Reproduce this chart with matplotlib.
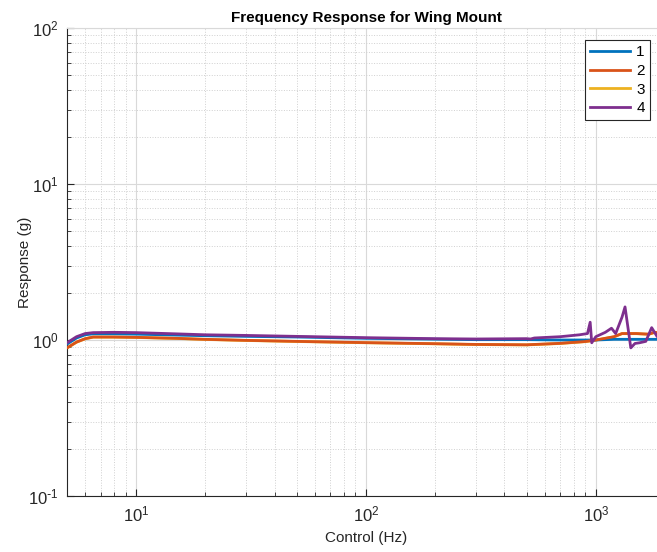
import matplotlib
matplotlib.use("Agg")
import matplotlib.pyplot as plt
from matplotlib.ticker import LogLocator, NullFormatter, FuncFormatter
import math

plt.rcParams['font.family'] = ['Liberation Sans', 'DejaVu Sans']
plt.rcParams['axes.unicode_minus'] = False

# Frequency points (Hz)
freq_1 = [5, 5.5, 6.0, 6.5, 8, 10, 15, 20, 30, 50, 100, 200, 300, 500, 700, 900, 1000, 1200, 1500, 2000]
resp_1 = [0.94, 1.03, 1.08, 1.095, 1.095, 1.09, 1.075, 1.065, 1.055, 1.045, 1.025, 1.012, 1.005, 1.005, 1.0, 1.0, 1.0, 1.01, 1.01, 1.01]

freq_2 = [5, 5.5, 6.0, 6.5, 8, 10, 15, 20, 30, 50, 100, 200, 300, 500, 700, 900, 1000, 1200, 1300, 1500, 1700, 1800, 2000]
resp_2 = [0.89, 0.97, 1.02, 1.045, 1.045, 1.04, 1.025, 1.01, 0.995, 0.98, 0.962, 0.947, 0.937, 0.932, 0.952, 0.978, 1.0, 1.05, 1.1, 1.1, 1.09, 1.12, 1.1]

freq_3 = freq_2
resp_3 = [0.888, 0.968, 1.018, 1.043, 1.043, 1.038, 1.023, 1.008, 0.993, 0.978, 0.960, 0.945, 0.935, 0.930, 0.950, 0.976, 0.998, 1.048, 1.098, 1.098, 1.088, 1.118, 1.098]

freq_4 = [5, 5.5, 6.0, 6.5, 8, 10, 15, 20, 30, 50, 100, 200, 300, 500, 520, 540, 700, 850, 920, 945, 960, 1000, 1100, 1170, 1220, 1300, 1340, 1380, 1420, 1480, 1550, 1650, 1750, 1850, 2000]
resp_4 = [0.96, 1.05, 1.10, 1.115, 1.12, 1.115, 1.095, 1.08, 1.07, 1.055, 1.035, 1.02, 1.015, 1.02, 1.015, 1.03, 1.05, 1.08, 1.1, 1.3, 0.96, 1.05, 1.12, 1.19, 1.1, 1.4, 1.63, 1.2, 0.89, 0.95, 0.96, 0.98, 1.2, 1.05, 1.1]

series = [(freq_1, resp_1, '1'), (freq_2, resp_2, '2'), (freq_3, resp_3, '3'), (freq_4, resp_4, '4')]
colors = ['#0072BD', '#D95319', '#EDB120', '#7E2F8E']
zorders = [3, 4, 2.5, 5]

fig = plt.figure(figsize=(6.57, 5.52), dpi=100)
ax = fig.add_axes([67/657, 1 - 496/552, (665 - 67)/657, (496 - 28)/552])

for (f, r, lab), c, z in zip(series, colors, zorders):
    ax.plot(f, r, color=c, lw=2.0, label=lab, zorder=z)

ax.set_xscale('log')
ax.set_yscale('log')
ax.set_xlim(5, 2000)
ax.set_ylim(0.1, 100)


def pow_fmt(v, pos):
    e = int(round(math.log10(v)))
    es = str(e).replace('-', r'\text{-}')
    return r'$\mathdefault{10^{%s}}$' % es


ax.xaxis.set_major_locator(LogLocator(base=10, numticks=10))
ax.xaxis.set_minor_locator(LogLocator(base=10, subs=range(2, 10), numticks=20))
ax.yaxis.set_minor_locator(LogLocator(base=10, subs=range(2, 10), numticks=20))
ax.xaxis.set_major_formatter(FuncFormatter(pow_fmt))
ax.yaxis.set_major_formatter(FuncFormatter(pow_fmt))
ax.xaxis.set_minor_formatter(NullFormatter())
ax.yaxis.set_minor_formatter(NullFormatter())

ax.grid(True, which='major', color='#d9d9d9', lw=0.8, ls='-')
ax.grid(True, which='minor', color='#d0d0d0', lw=0.7, ls=':')
ax.set_axisbelow(True)

ax.tick_params(which='both', direction='in', top=False, right=False, colors='#262626', labelsize=12)
ax.tick_params(which='major', length=5)
ax.tick_params(which='minor', length=3)
ax.tick_params(axis='x', which='major', pad=6)
ax.tick_params(axis='y', which='major', pad=6)
for s in ['left', 'bottom']:
    ax.spines[s].set_color('#262626')
ax.spines['top'].set_color('#d9d9d9')
ax.spines['right'].set_visible(False)

ax.set_xlabel('Control (Hz)', fontsize=11, color='#262626', labelpad=5)
ax.set_ylabel('Response (g)', fontsize=11, color='#262626', labelpad=-3)
ax.set_title('Frequency Response for Wing Mount', fontsize=11, fontweight='bold', color='#000000', pad=4)

leg = ax.legend(loc='upper right', bbox_to_anchor=((650 - 67)/598, 1 - (40 - 28)/468),
                borderaxespad=0, fancybox=False, edgecolor='#262626', framealpha=1, fontsize=11,
                handlelength=2.6, handletextpad=0.4, borderpad=0.35, labelspacing=0.3)
leg.get_frame().set_linewidth(0.8)

fig.savefig('out.png', dpi=100)
